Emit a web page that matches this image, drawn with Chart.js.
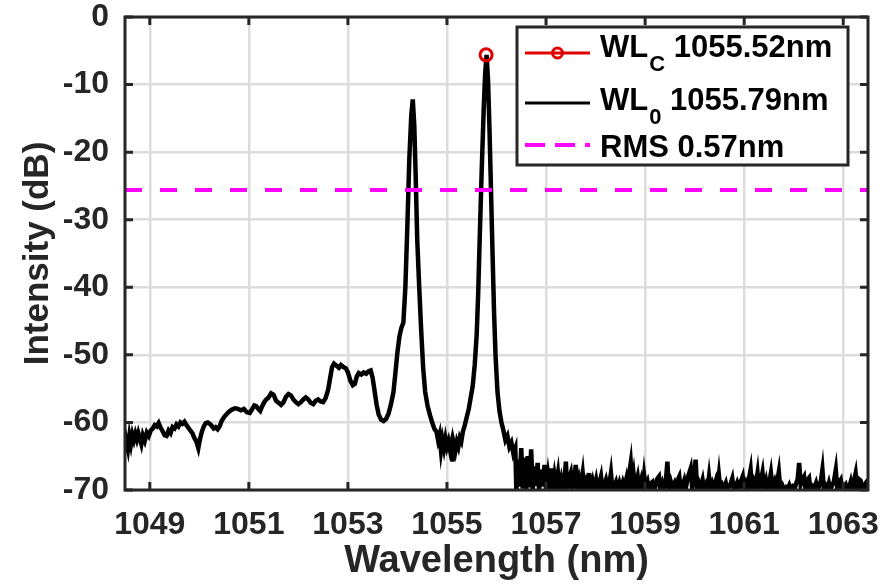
<!DOCTYPE html>
<html>
<head>
<meta charset="utf-8">
<script src="https://cdn.jsdelivr.net/npm/chart.js@4/dist/chart.umd.min.js"></script>
<style>
  html, body { margin: 0; padding: 0; background: #fff; }
</style>
</head>
<body>
<canvas id="chart" width="885" height="587"></canvas>
<script>
// axis ticks
const xTicks = [1049, 1051, 1053, 1055, 1057, 1059, 1061, 1063];
const yTicks = [0, -10, -20, -30, -40, -50, -60, -70];

// broadband part of the spectrum (left side)
const baseWl = [1048.50, 1048.53, 1048.56, 1048.59, 1048.62, 1048.65, 1048.68, 1048.71, 1048.74, 1048.77,
  1048.80, 1048.83, 1048.86, 1048.90, 1048.94, 1048.98, 1049.02, 1049.06, 1049.10, 1049.14,
  1049.18, 1049.22, 1049.26, 1049.30, 1049.34, 1049.38, 1049.42, 1049.46, 1049.50, 1049.54,
  1049.58, 1049.62, 1049.66, 1049.70, 1049.74, 1049.78, 1049.82, 1049.86, 1049.90, 1049.94,
  1049.98, 1050.01, 1050.05, 1050.09, 1050.13, 1050.17, 1050.21, 1050.25, 1050.29, 1050.33,
  1050.37, 1050.41, 1050.45, 1050.50, 1050.55, 1050.60, 1050.66, 1050.72, 1050.78, 1050.84,
  1050.90, 1050.96, 1051.02, 1051.07, 1051.11, 1051.15, 1051.19, 1051.23, 1051.27, 1051.31,
  1051.35, 1051.40, 1051.45, 1051.50, 1051.55, 1051.60, 1051.65, 1051.70, 1051.75, 1051.80,
  1051.85, 1051.90, 1051.95, 1052.00, 1052.05, 1052.10, 1052.15, 1052.20, 1052.25, 1052.30,
  1052.35, 1052.40, 1052.45, 1052.50, 1052.55, 1052.60, 1052.64, 1052.68, 1052.72, 1052.77,
  1052.82, 1052.86, 1052.91, 1052.96, 1053.00, 1053.05, 1053.10, 1053.14, 1053.18, 1053.22,
  1053.27, 1053.32, 1053.37, 1053.42, 1053.46, 1053.50, 1053.54, 1053.58, 1053.62, 1053.67,
  1053.72, 1053.77, 1053.82, 1053.87, 1053.92, 1053.96, 1054.00, 1054.04, 1054.08, 1054.12];
const baseDb = [-64.5, -62.8, -63.9, -62.0, -63.2, -61.8, -62.6, -61.7, -62.5, -61.6,
  -62.4, -63.2, -61.9, -62.7, -61.5, -62.0, -61.2, -60.9, -60.4, -60.6,
  -60.1, -60.8, -61.3, -61.9, -62.0, -61.2, -61.6, -60.7, -60.9, -60.3,
  -60.6, -60.0, -60.2, -59.9, -60.4, -60.8, -61.2, -61.6, -62.3, -62.8,
  -63.8, -62.6, -61.4, -60.6, -60.1, -60.0, -60.2, -60.5, -60.9, -60.7,
  -61.0, -60.6, -59.8, -59.2, -58.8, -58.4, -58.1, -57.9, -58.0, -58.2,
  -58.0, -58.5, -58.6, -58.0, -57.5, -57.6, -58.0, -58.3, -57.6, -57.0,
  -56.6, -56.3, -55.7, -55.9, -56.8, -57.1, -57.4, -57.0, -56.2, -55.8,
  -56.0, -56.6, -57.0, -57.3, -57.0, -56.6, -56.3, -56.6, -57.1, -57.3,
  -56.8, -56.6, -56.9, -57.0, -56.4, -55.2, -53.5, -51.8, -51.3, -51.6,
  -51.9, -51.5, -51.8, -52.0, -52.6, -53.8, -54.5, -54.3, -53.2, -52.7,
  -52.9, -52.6, -52.8, -52.4, -52.3, -53.4, -55.4, -57.4, -58.8, -59.6,
  -59.8, -59.5, -58.7, -57.3, -55.5, -52.6, -49.6, -47.3, -46.0, -45.2];

// the two lasing peaks
const peakWl = [1054.16, 1054.20, 1054.24, 1054.28, 1054.31, 1054.34, 1054.37, 1054.40, 1054.44, 1054.48,
  1054.52, 1054.56, 1054.61, 1054.66, 1054.71, 1054.75, 1054.79, 1054.82, 1054.85, 1054.88,
  1054.91, 1054.94, 1054.97, 1055.00, 1055.03, 1055.06, 1055.09, 1055.11, 1055.14, 1055.17,
  1055.20, 1055.23, 1055.26, 1055.29, 1055.32, 1055.36, 1055.40, 1055.44, 1055.48, 1055.52,
  1055.56, 1055.60, 1055.63, 1055.66, 1055.70, 1055.74, 1055.77, 1055.80, 1055.83, 1055.86,
  1055.89, 1055.92, 1055.95, 1055.98, 1056.02, 1056.06, 1056.10, 1056.14, 1056.18, 1056.22,
  1056.26, 1056.30, 1056.34, 1056.38];
const peakDb = [-40.0, -31.0, -21.0, -14.5, -12.2, -16.0, -24.0, -33.0, -40.0, -46.5,
  -52.0, -55.5, -57.6, -59.0, -60.2, -61.0, -61.4, -62.6, -61.8, -64.2,
  -62.6, -63.8, -62.4, -63.6, -62.8, -64.0, -63.0, -65.8, -63.2, -64.2,
  -62.9, -63.6, -62.3, -62.8, -61.4, -60.4, -59.2, -58.0, -56.3, -54.6,
  -51.5, -47.0, -41.0, -33.0, -23.0, -14.0, -8.5, -5.6, -9.5, -17.0,
  -26.0, -35.0, -43.5, -50.0, -55.5, -58.3, -60.0, -61.2, -62.6, -62.0,
  -63.6, -63.0, -64.6, -63.8];

// noise floor on the long-wavelength side
const tailWl = [1056.40, 1056.43, 1056.46, 1056.50, 1056.53, 1056.56, 1056.60, 1056.63, 1056.66, 1056.70,
  1056.73, 1056.76, 1056.80, 1056.83, 1056.86, 1056.90, 1056.93, 1056.97, 1057.00, 1057.04,
  1057.07, 1057.10, 1057.13, 1057.17, 1057.20, 1057.24, 1057.27, 1057.31, 1057.34, 1057.38,
  1057.40, 1057.43, 1057.47, 1057.50, 1057.53, 1057.57, 1057.60, 1057.63, 1057.67, 1057.70,
  1057.74, 1057.77, 1057.81, 1057.84, 1057.87, 1057.90, 1057.94, 1057.97, 1058.01, 1058.04,
  1058.08, 1058.11, 1058.14, 1058.18, 1058.21, 1058.25, 1058.28, 1058.31, 1058.34, 1058.38,
  1058.41, 1058.44, 1058.48, 1058.51, 1058.55, 1058.58, 1058.62, 1058.65, 1058.68, 1058.71,
  1058.74, 1058.77, 1058.80, 1058.83, 1058.85, 1058.88, 1058.92, 1058.95, 1058.98, 1059.01,
  1059.05, 1059.08, 1059.12, 1059.15, 1059.18, 1059.22, 1059.25, 1059.28, 1059.31, 1059.35,
  1059.38, 1059.42, 1059.45, 1059.48, 1059.52, 1059.55, 1059.59, 1059.62, 1059.66, 1059.69,
  1059.72, 1059.76, 1059.79, 1059.82, 1059.86, 1059.89, 1059.92, 1059.95, 1059.99, 1060.02,
  1060.05, 1060.09, 1060.12, 1060.16, 1060.19, 1060.23, 1060.26, 1060.29, 1060.32, 1060.36,
  1060.39, 1060.43, 1060.46, 1060.49, 1060.52, 1060.56, 1060.59, 1060.63, 1060.66, 1060.70,
  1060.73, 1060.76, 1060.79, 1060.83, 1060.86, 1060.90, 1060.93, 1060.97, 1061.00, 1061.04,
  1061.07, 1061.10, 1061.13, 1061.16, 1061.20, 1061.23, 1061.27, 1061.30, 1061.34, 1061.37,
  1061.40, 1061.44, 1061.47, 1061.51, 1061.54, 1061.57, 1061.61, 1061.64, 1061.67, 1061.70,
  1061.73, 1061.77, 1061.81, 1061.85, 1061.88, 1061.91, 1061.94, 1061.98, 1062.02, 1062.05,
  1062.08, 1062.11, 1062.14, 1062.17, 1062.21, 1062.24, 1062.27, 1062.31, 1062.34, 1062.38,
  1062.41, 1062.45, 1062.48, 1062.52, 1062.55, 1062.58, 1062.61, 1062.65, 1062.68, 1062.71,
  1062.74, 1062.78, 1062.81, 1062.85, 1062.88, 1062.91, 1062.95, 1062.98, 1063.02, 1063.05,
  1063.08, 1063.12, 1063.15, 1063.18, 1063.22, 1063.25, 1063.28, 1063.32, 1063.35, 1063.38,
  1063.42, 1063.45, 1063.48, 1063.50];
const tailDb = [-70.0, -65.5, -69.5, -63.8, -69.8, -65.2, -70.0, -65.0, -69.6, -64.0,
  -70.0, -66.5, -69.4, -66.0, -70.0, -67.0, -69.5, -66.3, -70.0, -67.6,
  -69.2, -66.8, -70.0, -67.8, -69.3, -67.5, -70.0, -68.4, -69.6, -67.9,
  -65.8, -70.0, -68.2, -67.5, -69.8, -68.6, -66.3, -70.0, -68.4, -69.5,
  -67.5, -70.0, -68.8, -69.6, -67.5, -70.0, -68.7, -69.8, -68.5, -70.0,
  -68.9, -68.0, -70.0, -69.2, -68.5, -70.0, -69.0, -67.5, -70.0, -69.3,
  -68.8, -70.0, -69.0, -70.0, -68.9, -69.7, -68.4, -70.0, -67.5, -66.0,
  -69.4, -67.8, -70.0, -68.6, -68.0, -69.8, -68.6, -70.0, -67.8, -69.6,
  -68.8, -70.0, -69.0, -68.8, -70.0, -69.2, -68.3, -68.0, -70.0, -69.0,
  -69.8, -68.6, -65.8, -70.0, -68.8, -69.6, -69.0, -70.0, -68.5, -68.0,
  -70.0, -69.3, -68.6, -69.8, -68.2, -67.5, -66.8, -69.6, -68.0, -65.5,
  -70.0, -69.0, -69.6, -68.5, -70.0, -69.2, -69.8, -68.0, -70.0, -69.0,
  -69.6, -68.6, -69.8, -67.8, -70.0, -69.3, -69.8, -69.0, -70.0, -69.4,
  -69.0, -68.3, -70.0, -69.5, -68.9, -69.8, -68.8, -68.0, -70.0, -69.0,
  -69.6, -68.2, -67.0, -70.0, -68.8, -69.5, -67.5, -70.0, -68.5, -67.4,
  -69.7, -68.6, -70.0, -68.8, -67.5, -69.6, -68.8, -70.0, -68.6, -67.3,
  -69.8, -69.3, -70.0, -69.6, -69.8, -69.3, -70.0, -69.5, -69.8, -69.0,
  -68.4, -66.0, -69.2, -68.5, -68.0, -70.0, -68.6, -68.2, -70.0, -69.5,
  -69.8, -69.0, -70.0, -69.3, -68.6, -67.0, -70.0, -69.4, -69.8, -69.0,
  -70.0, -69.2, -68.8, -67.0, -69.8, -69.0, -68.5, -70.0, -69.5, -69.2,
  -70.0, -69.6, -68.8, -70.0, -68.5, -67.5, -69.8, -68.4, -68.6, -70.0,
  -69.3, -69.0, -70.0, -69.6];

// centroid marker and RMS level
const markerWl = [1055.79];
const markerDb = [-5.6];
const rmsWl = [1048.5, 1063.5];
const rmsDb = [-25.6, -25.6];

const legendRows = [
  { main: 'WL', sub: 'C', rest: ' 1055.52nm', color: '#e00000', kind: 'marker' },
  { main: 'WL', sub: '0', rest: ' 1055.79nm', color: '#000000', kind: 'line' },
  { main: 'RMS 0.57nm', sub: '', rest: '', color: '#ff00ff', kind: 'dash' }
];

const FONT = '"Liberation Sans", Arial, sans-serif';
const AXIS = '#262626';

const spectrumWl = baseWl.concat(peakWl, tailWl);
const spectrumDb = baseDb.concat(peakDb, tailDb);
const toPoints = (xs, ys) => xs.map((v, i) => ({ x: v, y: ys[i] }));

const framePlugin = {
    id: 'frame',
    afterDatasetsDraw(chart) {
        const { ctx, chartArea: a, scales: { x, y } } = chart;
        ctx.save();
        ctx.strokeStyle = AXIS;
        ctx.lineWidth = 3;
        ctx.beginPath();
        xTicks.forEach(v => {
            const px = x.getPixelForValue(v);
            ctx.moveTo(px, a.bottom); ctx.lineTo(px, a.bottom - 8);
            ctx.moveTo(px, a.top); ctx.lineTo(px, a.top + 8);
        });
        yTicks.forEach(v => {
            const py = y.getPixelForValue(v);
            ctx.moveTo(a.left, py); ctx.lineTo(a.left + 8, py);
            ctx.moveTo(a.right, py); ctx.lineTo(a.right - 8, py);
        });
        ctx.stroke();
        ctx.strokeRect(a.left, a.top, a.right - a.left, a.bottom - a.top);
        ctx.restore();
    }
};

const legendPlugin = {
    id: 'boxLegend',
    afterDraw(chart) {
        const { ctx, chartArea: a } = chart;
        const bx = a.right - 351, by = a.top + 10, bw = 331, bh = 138;
        ctx.save();
        ctx.fillStyle = '#fff';
        ctx.fillRect(bx, by, bw, bh);
        ctx.strokeStyle = AXIS;
        ctx.lineWidth = 3;
        ctx.strokeRect(bx, by, bw, bh);

        const lineY = [26, 76, 118];
        const baseY = [30, 83, 130];
        legendRows.forEach((row, i) => {
            const ly = by + lineY[i];
            const x0 = bx + 8, x1 = bx + 73;
            ctx.strokeStyle = row.color;
            ctx.lineWidth = 3;
            if (row.kind === 'dash') {
                ctx.lineWidth = 4;
                ctx.setLineDash([20, 10]);
            }
            ctx.beginPath();
            ctx.moveTo(x0, ly);
            ctx.lineTo(x1, ly);
            ctx.stroke();
            ctx.setLineDash([]);
            if (row.kind === 'marker') {
                ctx.beginPath();
                ctx.arc((x0 + x1) / 2, ly, 5, 0, Math.PI * 2);
                ctx.stroke();
            }

            let tx = bx + 83;
            const ty = by + baseY[i];
            ctx.fillStyle = '#000';
            ctx.textBaseline = 'alphabetic';
            ctx.font = 'bold 31px ' + FONT;
            ctx.fillText(row.main, tx, ty);
            tx += ctx.measureText(row.main).width;
            if (row.sub) {
                ctx.font = 'bold 22px ' + FONT;
                ctx.fillText(row.sub, tx + 1, ty + 14);
                tx += ctx.measureText(row.sub).width + 1;
                ctx.font = 'bold 31px ' + FONT;
                ctx.fillText(row.rest, tx, ty);
            }
        });
        ctx.restore();
    }
};

new Chart(document.getElementById('chart'), {
    type: 'scatter',
    data: {
        datasets: [
            {
                label: 'WLc',
                data: toPoints(markerWl, markerDb),
                showLine: false,
                pointStyle: 'circle',
                pointRadius: 6,
                borderWidth: 3,
                borderColor: '#e00000',
                backgroundColor: 'rgba(0,0,0,0)',
                order: 0
            },
            {
                label: 'RMS',
                data: toPoints(rmsWl, rmsDb),
                showLine: true,
                borderColor: '#ff00ff',
                borderWidth: 4,
                borderDash: [17, 18],
                pointRadius: 0,
                order: 1
            },
            {
                label: 'WL0',
                data: toPoints(spectrumWl, spectrumDb),
                showLine: true,
                borderColor: '#000000',
                borderWidth: 4.5,
                pointRadius: 0,
                tension: 0,
                order: 2
            }
        ]
    },
    options: {
        responsive: false,
        animation: false,
        events: [],
        layout: { padding: { left: 0, top: 17, right: 17, bottom: 0 } },
        plugins: { legend: { display: false }, tooltip: { enabled: false } },
        scales: {
            x: {
                type: 'linear',
                min: 1048.5,
                max: 1063.5,
                afterBuildTicks: s => { s.ticks = xTicks.map(v => ({ value: v })); },
                afterFit: s => { s.height = 97; s.paddingLeft = 0; s.paddingRight = 0; },
                grid: { color: '#dcdcdc', lineWidth: 2.5, drawTicks: false },
                border: { display: false },
                ticks: { color: AXIS, padding: 16, maxRotation: 0, callback: v => String(v),
                         font: { family: FONT, size: 32, weight: 'bold' } },
                title: { display: true, text: 'Wavelength (nm)', color: AXIS, padding: { top: 0, bottom: 3 },
                         font: { family: FONT, size: 38, weight: 'bold' } }
            },
            y: {
                min: -70,
                max: 0,
                afterBuildTicks: s => { s.ticks = yTicks.map(v => ({ value: v })); },
                afterFit: s => { s.width = 125; s.paddingTop = 0; s.paddingBottom = 0; },
                grid: { color: '#dcdcdc', lineWidth: 2.5, drawTicks: false },
                border: { display: false },
                ticks: { color: AXIS, padding: 16, callback: v => String(v),
                         font: { family: FONT, size: 32, weight: 'bold' } },
                title: { display: true, text: 'Intensity (dB)', color: AXIS, padding: { top: 17, bottom: 0 },
                         font: { family: FONT, size: 35, weight: 'bold' } }
            }
        }
    },
    plugins: [framePlugin, legendPlugin]
});
</script>
</body>
</html>
